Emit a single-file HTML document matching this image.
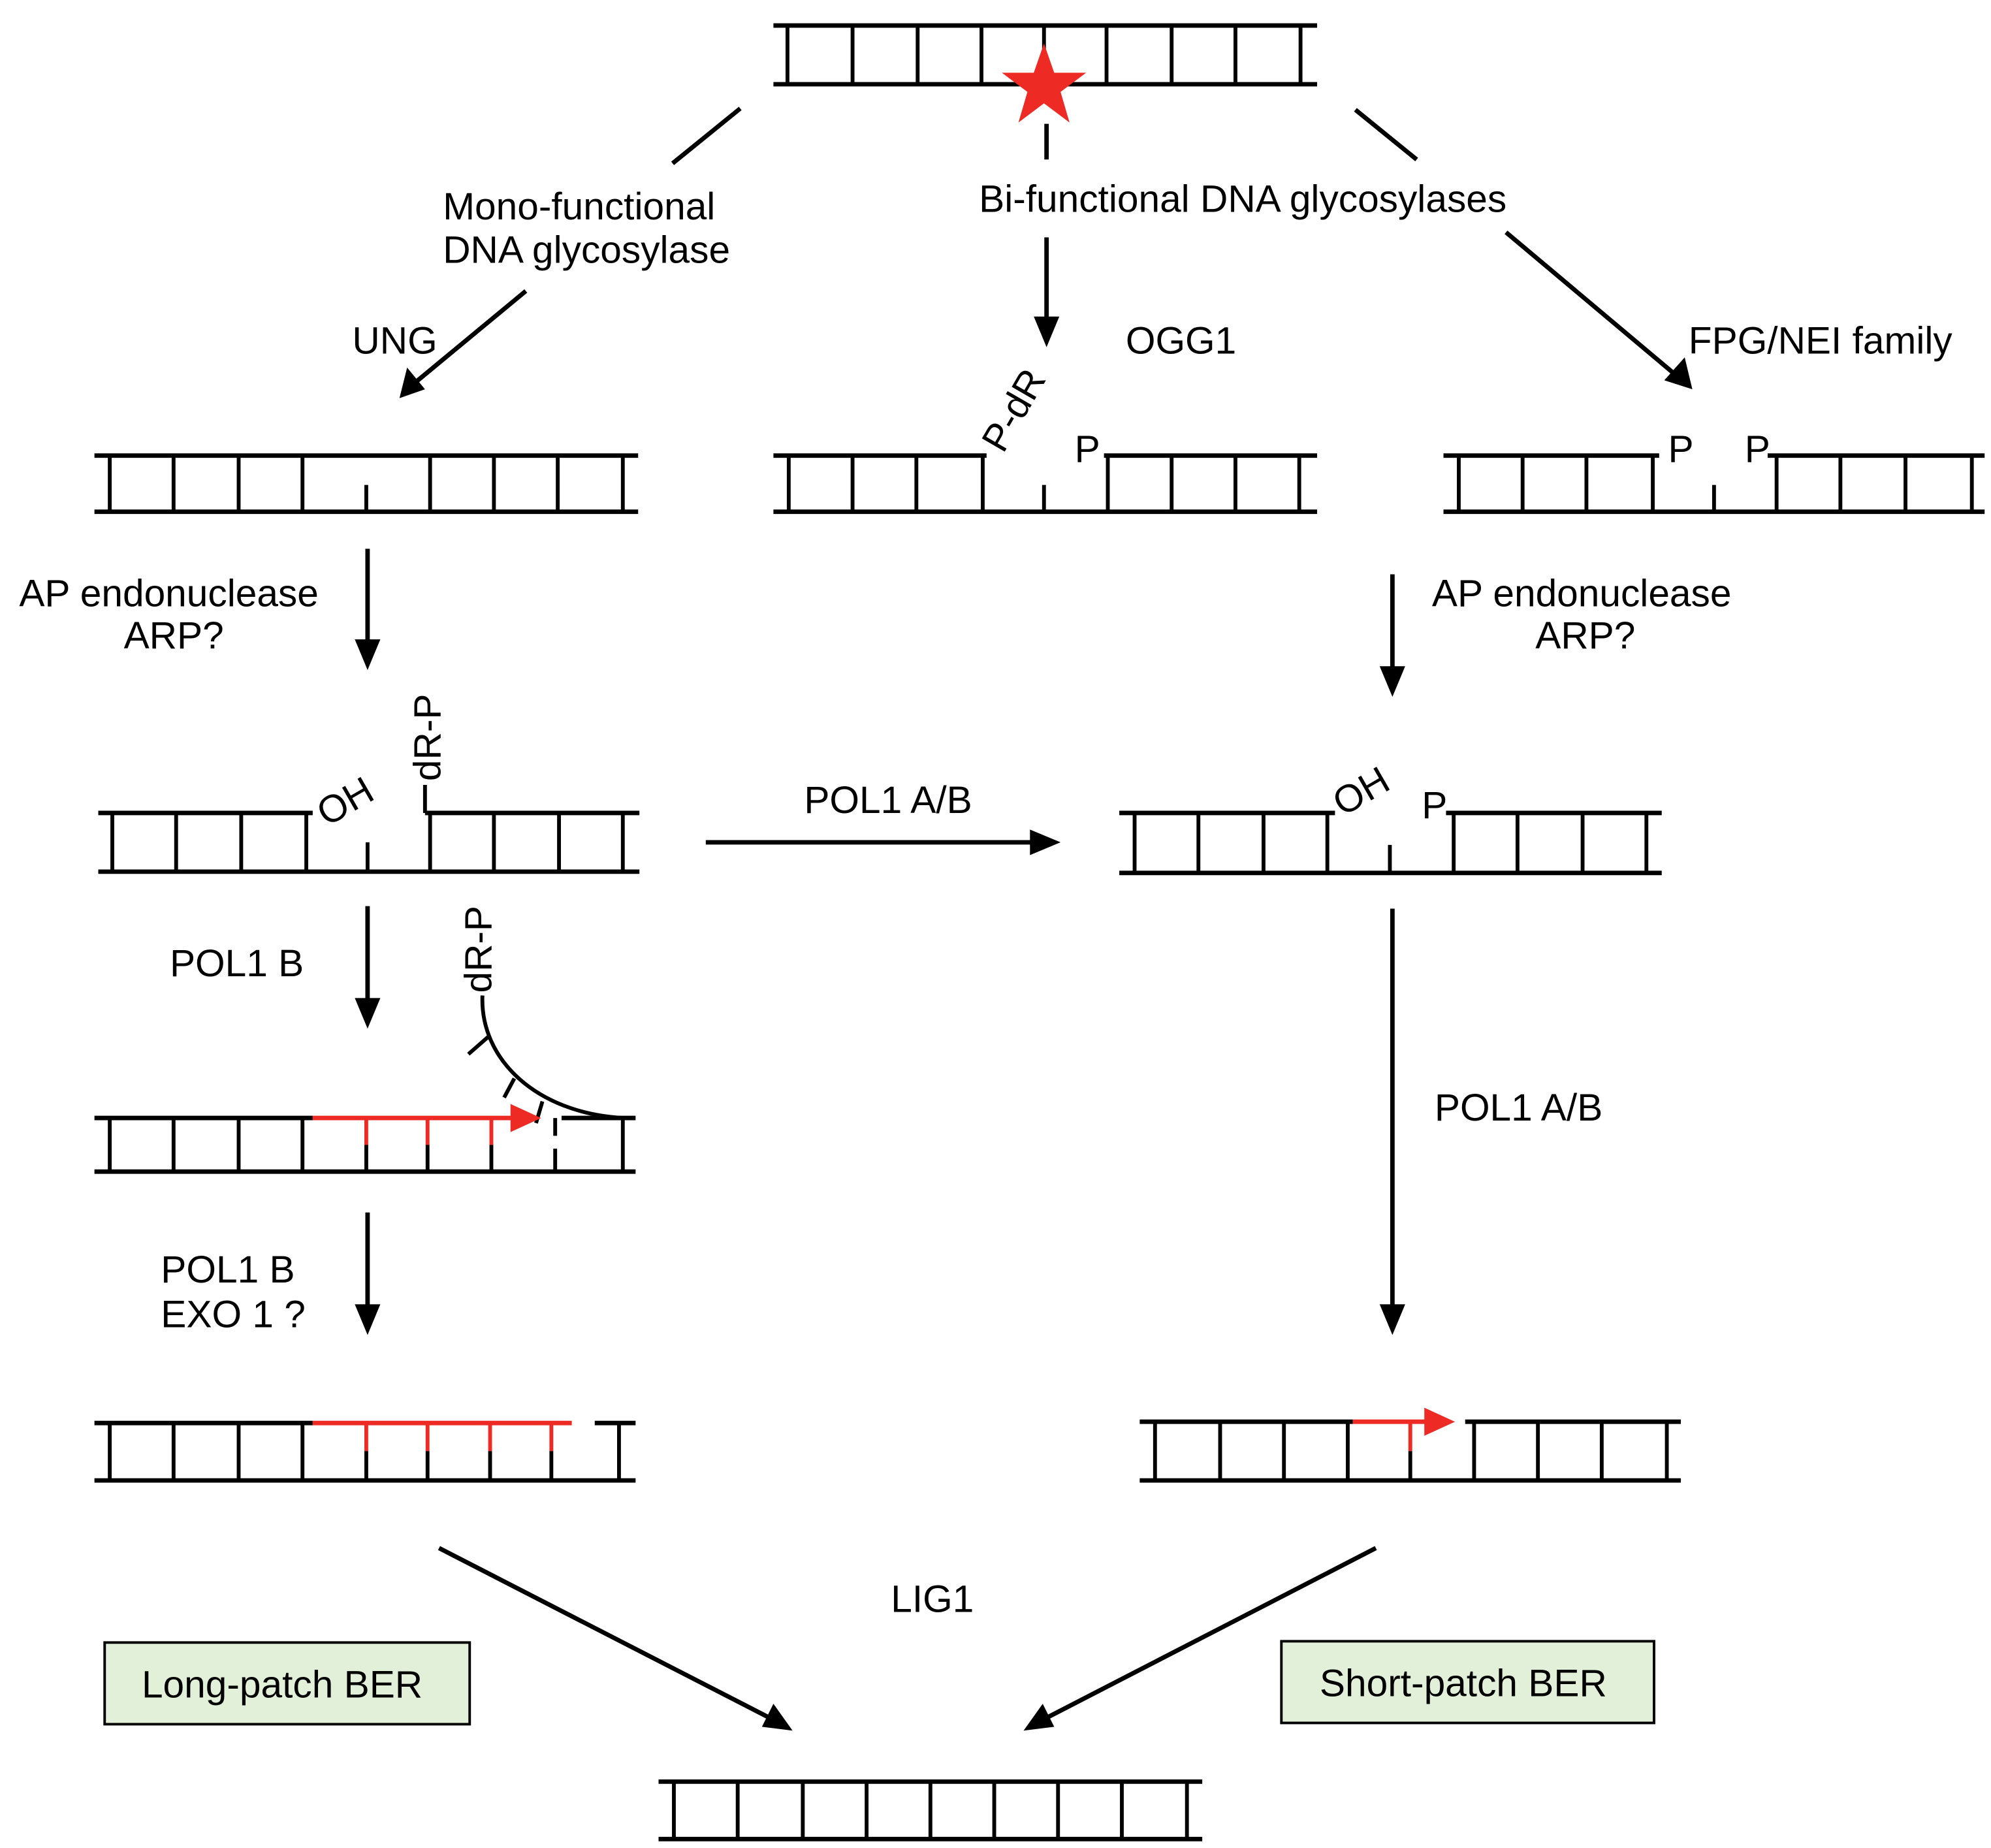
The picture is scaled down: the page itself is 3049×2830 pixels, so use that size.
<!DOCTYPE html>
<html><head><meta charset="utf-8"><style>
html,body{margin:0;padding:0;background:#fff;}
svg{display:block;}
text{font-family:"Liberation Sans",Arial,sans-serif;font-size:30px;fill:#000;}
</style></head><body>
<svg width="3049" height="2830" viewBox="0 0 1560 1448" preserveAspectRatio="none" xmlns="http://www.w3.org/2000/svg">
<g stroke="#000" fill="none" stroke-width="3.5">
<path d="M606 20H1032M606 66H1032"/>
<path stroke-width="3" d="M617 20V66M668 20V66M719 20V66M769 20V66M818 20V66M867 20V66M918 20V66M968 20V66M1019 20V66"/>
<path d="M74 357H500M74 401H500"/>
<path stroke-width="3" d="M86 357V401M136 357V401M187 357V401M237 357V401M287 380V401M337 357V401M387 357V401M437 357V401M488 357V401"/>
<path d="M606 357H773M865 357H1032M606 401H1032"/>
<path stroke-width="3" d="M618 357V401M668 357V401M718 357V401M770 357V401M818 380V401M868 357V401M918 357V401M968 357V401M1018 357V401"/>
<path d="M1131 357H1300M1385 357H1555M1131 401H1555"/>
<path stroke-width="3" d="M1143 357V401M1193 357V401M1243 357V401M1295 357V401M1343 380V401M1392 357V401M1442 357V401M1493 357V401M1545 357V401"/>
<path d="M77 637H245M333 637H501M77 683H501"/>
<path stroke-width="3" d="M88 637V683M138 637V683M189 637V683M240 637V683M288 660V683M337 637V683M387 637V683M438 637V683M488 637V683M333 637V615"/>
<path d="M877 637H1046M1133 637H1302M877 684H1302"/>
<path stroke-width="3" d="M889 637V684M939 637V684M990 637V684M1040 637V684M1089 662V684M1139 637V684M1189 637V684M1240 637V684M1290 637V684"/>
<path d="M74 876H245M440 876H498M74 918H498"/>
<path stroke-width="3" d="M86 876V918M136 876V918M187 876V918M237 876V918M287 897V918M335 897V918M385 897V918M435 900V918M435 876V890M488 876V918"/>
<path stroke-width="3" d="M378 780C376 830 420 872 488 876"/>
<path stroke-width="3" d="M383 812L367 826M403 845L395 860M425 863L420 880"/>
<path d="M74 1115H245M466 1115H498M74 1160H498"/>
<path stroke-width="3" d="M86 1115V1160M136 1115V1160M187 1115V1160M237 1115V1160M287 1137V1160M335 1137V1160M384 1137V1160M432 1137V1160M485 1115V1160"/>
<path d="M893 1114H1060M1148 1114H1317M893 1160H1317"/>
<path stroke-width="3" d="M905 1114V1160M956 1114V1160M1006 1114V1160M1056 1114V1160M1105 1137V1160M1155 1114V1160M1205 1114V1160M1255 1114V1160M1306 1114V1160"/>
<path d="M516 1396H942M516 1441H942"/>
<path stroke-width="3" d="M528 1396V1441M578 1396V1441M629 1396V1441M679 1396V1441M729 1396V1441M779 1396V1441M829 1396V1441M879 1396V1441M930 1396V1441"/>
</g>
<g stroke="#ee2a24" stroke-width="3.5" fill="none">
<path d="M245 876H402M245 1115H448M1060 1114H1118"/>
<path stroke-width="3" d="M287 876V897M335 876V897M385 876V897M287 1115V1137M335 1115V1137M384 1115V1137M432 1115V1137M1105 1114V1137"/>
</g>
<polygon fill="#ee2a24" points="400,865 424,876 400,887"/>
<polygon fill="#ee2a24" points="1116,1103 1140,1114 1116,1125"/>
<polygon fill="#ee2a24" points="818,34 826,57 851,57 831,72 838,96 818,81 798,96 805,72 785,57 810,57"/>
<g stroke="#000" stroke-width="3.5" fill="none">
<path d="M580 85L527 128"/>
<path d="M412 228L325 300"/>
<path d="M820 97V125"/>
<path d="M820 186V255"/>
<path d="M1062 86L1110 125"/>
<path d="M1180 182L1312 293"/>
<path d="M288 430V505M1091 450V525M553 660H810M288 710V785M1091 712V1025M288 950V1025"/>
<path d="M344 1213L603 1346M1078 1213L820 1346"/>
</g>
<g fill="#000">
<polygon points="313,312 319,288 333,305"/>
<polygon points="820,272 810,248 830,248"/>
<polygon points="1326,305 1304,298 1320,280"/>
<polygon points="288,525 278,501 298,501"/>
<polygon points="1091,546 1081,522 1101,522"/>
<polygon points="831,660 807,650 807,670"/>
<polygon points="288,806 278,782 298,782"/>
<polygon points="1091,1046 1081,1022 1101,1022"/>
<polygon points="288,1046 278,1022 298,1022"/>
<polygon points="621,1356 597,1353 606,1335"/>
<polygon points="802,1356 817,1335 826,1353"/>
</g>
<text x="347" y="172">Mono-functional</text>
<text x="347" y="206">DNA glycosylase</text>
<text x="767" y="166">Bi-functional DNA glycosylases</text>
<text x="276" y="277">UNG</text>
<text x="882" y="277">OGG1</text>
<text x="1323" y="277">FPG/NEI family</text>
<text transform="translate(786,356) rotate(-60)">P-dR</text>
<text x="842" y="362">P</text>
<text x="1307" y="362">P</text>
<text x="1367" y="362">P</text>
<text x="15" y="475">AP endonuclease</text>
<text x="97" y="508">ARP?</text>
<text x="1122" y="475">AP endonuclease</text>
<text x="1203" y="508">ARP?</text>
<text transform="translate(256,648) rotate(-30)">OH</text>
<text transform="translate(345,612) rotate(-90)">dR-P</text>
<text transform="translate(1052,640) rotate(-30)">OH</text>
<text x="1114" y="641">P</text>
<text x="630" y="637">POL1 A/B</text>
<text x="133" y="765">POL1 B</text>
<text transform="translate(385,778) rotate(-90)">dR-P</text>
<text x="1124" y="878">POL1 A/B</text>
<text x="126" y="1005">POL1 B</text>
<text x="126" y="1040">EXO 1 ?</text>
<text x="698" y="1263">LIG1</text>
<rect x="82" y="1287" width="286" height="64" fill="#e2f0d9" stroke="#000" stroke-width="2"/>
<text x="111" y="1330">Long-patch BER</text>
<rect x="1004" y="1286" width="292" height="64" fill="#e2f0d9" stroke="#000" stroke-width="2"/>
<text x="1034" y="1329">Short-patch BER</text>
</svg>
</body></html>
